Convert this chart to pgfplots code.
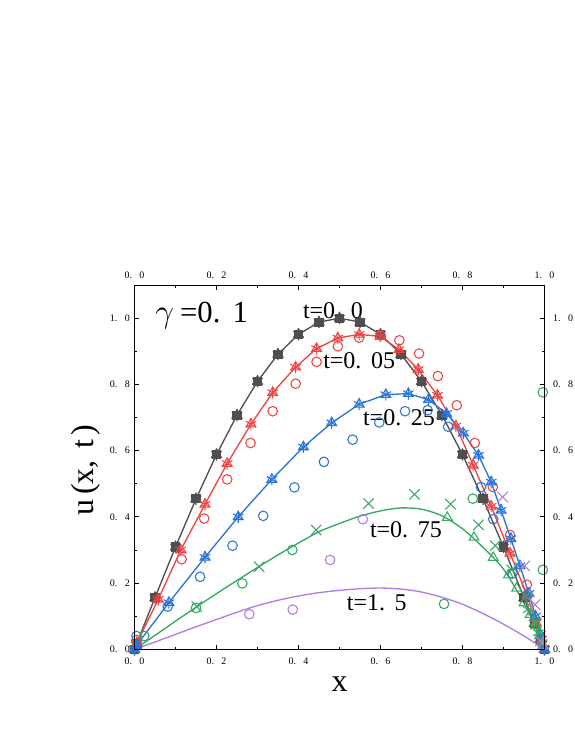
\documentclass[border=0pt]{standalone}
\usepackage{pgfplots}
\pgfplotsset{compat=1.18}
\usepackage{pgfplotstable}
\usepackage{fontspec}
\setmainfont{Liberation Serif}

\definecolor{cgray}{HTML}{4F4F4F}
\definecolor{cred}{HTML}{EE4444}
\definecolor{cblue}{HTML}{2A74DA}
\definecolor{cgreen}{HTML}{35A862}
\definecolor{cpurple}{HTML}{B07EE2}

\newcommand{\tl}[2]{#1.\hspace{0.75em}#2}

\pgfplotstableread{
x y
0 0
0.005 0.016
0.05 0.156
0.1 0.309
0.15 0.454
0.2 0.588
0.25 0.707
0.3 0.809
0.35 0.891
0.4 0.951
0.45 0.988
0.5 1.0
0.55 0.988
0.6 0.951
0.65 0.891
0.7 0.809
0.75 0.707
0.8 0.588
0.85 0.454
0.9 0.309
0.95 0.156
0.975 0.078
0.99 0.031
1.0 0
}\grayT

\pgfplotstableread{
x y
0 0
0.006 0.020
0.058 0.151
0.113 0.300
0.172 0.438
0.226 0.561
0.284 0.680
0.337 0.775
0.393 0.852
0.444 0.908
0.496 0.940
0.548 0.951
0.599 0.945
0.645 0.905
0.692 0.845
0.739 0.767
0.784 0.674
0.826 0.556
0.870 0.432
0.916 0.290
0.957 0.164
0.980 0.080
0.993 0.030
1.0 0
}\redT

\pgfplotstableread{
x y
0 0
0.005 0.012
0.084 0.141
0.172 0.278
0.253 0.400
0.335 0.513
0.412 0.611
0.481 0.684
0.548 0.740
0.613 0.769
0.668 0.772
0.717 0.754
0.761 0.712
0.802 0.653
0.839 0.586
0.870 0.505
0.894 0.420
0.918 0.334
0.940 0.252
0.962 0.169
0.978 0.100
0.990 0.045
1.0 0
}\blueT

\pgfplotstableread{
x y
0 0
0.05 0.042
0.1 0.085
0.15 0.127
0.2 0.168
0.25 0.208
0.3 0.247
0.35 0.285
0.4 0.321
0.45 0.355
0.5 0.380
0.55 0.402
0.6 0.418
0.65 0.427
0.7 0.423
0.75 0.403
0.8 0.364
0.85 0.308
0.9 0.242
0.95 0.140
0.975 0.075
1.0 0
}\greenL

\pgfplotstableread{
x y
0 0
0.05 0.022
0.1 0.045
0.15 0.068
0.2 0.090
0.25 0.112
0.3 0.132
0.35 0.148
0.4 0.161
0.45 0.171
0.5 0.178
0.55 0.183
0.6 0.185
0.65 0.182
0.7 0.173
0.75 0.157
0.8 0.136
0.85 0.108
0.9 0.076
0.95 0.040
1.0 0
}\purpleL

\begin{document}
\begin{tikzpicture}
\useasboundingbox (0,0) rectangle (431.25pt,558pt);
\pgfplotsset{
  base/.style={
    at={(100.875pt,71.025pt)}, anchor=south west,
    scale only axis, width=307.5pt, height=273.2pt,
    xmin=0, xmax=1, ymin=0, ymax=1.1,
    xtick={0,0.2,0.4,0.6,0.8,1},
    ytick={0,0.2,0.4,0.6,0.8,1},
    xticklabels={\tl00,\tl02,\tl04,\tl06,\tl08,\tl10},
    yticklabels={\tl00,\tl02,\tl04,\tl06,\tl08,\tl10},
    minor x tick num=1, minor y tick num=1,
    tick align=inside, tick pos=both,
    major tick length=3.5pt, minor tick length=2pt,
    tick style={black, line width=0.6pt},
    axis line style={line width=0.8pt},
    tick label style={font=\fontsize{7.5}{8}\selectfont},
  },
  mk/.style={mark options={line width=0.8pt, solid}},
}
\begin{axis}[base,
  xlabel={x}, ylabel={u\hspace{0.15em}(x,\hspace{0.35em}t\hspace{0.15em})},
  every axis x label/.style={at={(rel axis cs:0.5,-0.095)}, anchor=center, font=\fontsize{24}{24}\selectfont},
  every axis y label/.style={at={(rel axis cs:-0.118,0.492)}, anchor=center, rotate=90, font=\fontsize{24}{24}\selectfont},
  xticklabel style={yshift=-3pt},
]
% gray t=0
\addplot[cgray, line width=1pt, mark=square*, mark size=2.9pt, mark options={solid}] table {\grayT};
\addplot[cgray, only marks, mark=triangle, mark size=4.2pt, mk] table {\grayT};
\addplot[cgray, only marks, mark=asterisk, mark size=4.5pt, mk] table {\grayT};
% red t=0.05
\addplot[cred, line width=1pt, mark=asterisk, mark size=4.5pt, mk] table {\redT};
\addplot[cred, only marks, mark=triangle, mark size=4.2pt, mk] table {\redT};
\addplot[cred, only marks, mark=o, mark size=3.6pt, mk] coordinates {
(0.005,0.028) (0.115,0.272) (0.170,0.395) (0.226,0.513) (0.283,0.623) (0.337,0.719)
(0.393,0.802) (0.444,0.868) (0.496,0.915) (0.548,0.941) (0.600,0.948) (0.646,0.933)
(0.694,0.893) (0.740,0.825) (0.786,0.737) (0.830,0.623) (0.874,0.490) (0.916,0.345)
(0.957,0.195)};
% blue t=0.25
\addplot[cblue, line width=1pt, mark=asterisk, mark size=4.5pt, mk] table {\blueT};
\addplot[cblue, only marks, mark=triangle, mark size=4.2pt, mk] table {\blueT};
\addplot[cblue, only marks, mark=o, mark size=3.6pt, mk] coordinates {
(0.005,0.040) (0.081,0.129) (0.160,0.219) (0.239,0.313) (0.314,0.403) (0.390,0.489)
(0.462,0.566) (0.532,0.633) (0.597,0.685) (0.660,0.719) (0.715,0.722) (0.765,0.672)
(0.845,0.490) (0.875,0.393) (0.922,0.229)};
% green t=0.75
\addplot[cgreen, line width=1pt, smooth] table {\greenL};
\addplot[cgreen, only marks, mark=triangle, mark size=4.2pt, mk] coordinates {
(0.763,0.398) (0.828,0.338) (0.875,0.277) (0.912,0.224) (0.932,0.184) (0.950,0.140)
(0.965,0.105) (0.978,0.070) (0.988,0.040) (0.996,0.012)};
\addplot[cgreen, only marks, mark=asterisk, mark size=4.5pt, mk] coordinates {
(0.960,0.120) (0.975,0.080) (0.985,0.050) (0.995,0.020)};
\addplot[cgreen, only marks, mark=x, mark size=5.5pt, mk] coordinates {
(0.152,0.129) (0.304,0.249) (0.443,0.360) (0.571,0.440) (0.683,0.468) (0.771,0.438)
(0.839,0.376) (0.880,0.313) (0.920,0.240) (0.955,0.160) (0.980,0.080)};
\addplot[cgreen, only marks, mark=o, mark size=3.6pt, mk] coordinates {
(0.024,0.040) (0.150,0.125) (0.263,0.199) (0.385,0.300) (0.755,0.137) (0.825,0.455)
(0.996,0.240) (0.996,0.776)};
% purple t=1.5
\addplot[cpurple, line width=1pt, smooth] table {\purpleL};
\addplot[cpurple, only marks, mark=o, mark size=3.6pt, mk] coordinates {
(0.280,0.106) (0.386,0.120) (0.477,0.270) (0.557,0.393)};
\addplot[cpurple, only marks, mark=x, mark size=5.5pt, mk] coordinates {
(0.898,0.460) (0.952,0.252) (0.977,0.135) (0.990,0.025)};
\addplot[cpurple, only marks, mark=triangle, mark size=4.2pt, mk] coordinates {
(0.997,0.010)};
% labels
\node[font=\fontsize{18}{18}\selectfont] at (axis cs:0.484,1.024) {t=0.\hspace{0.4em}0};
\node[font=\fontsize{18}{18}\selectfont] at (axis cs:0.548,0.873) {t=0.\hspace{0.4em}05};
\node[font=\fontsize{18}{18}\selectfont] at (axis cs:0.645,0.698) {t=0.\hspace{0.4em}25};
\node[font=\fontsize{18}{18}\selectfont] at (axis cs:0.662,0.360) {t=0.\hspace{0.4em}75};
\node[font=\fontsize{18}{18}\selectfont] at (axis cs:0.591,0.140) {t=1.\hspace{0.4em}5};
\node[font=\fontsize{23}{24}\selectfont] at (axis cs:0.164,1.008) {$\gamma$\hspace{0.2em}=0.\hspace{0.4em}1};
\end{axis}
\begin{axis}[base,
  xticklabel pos=right, yticklabel pos=right,
  xticklabel style={yshift=1pt},
  yticklabel style={xshift=3pt},
]
\end{axis}
\end{tikzpicture}
\end{document}
